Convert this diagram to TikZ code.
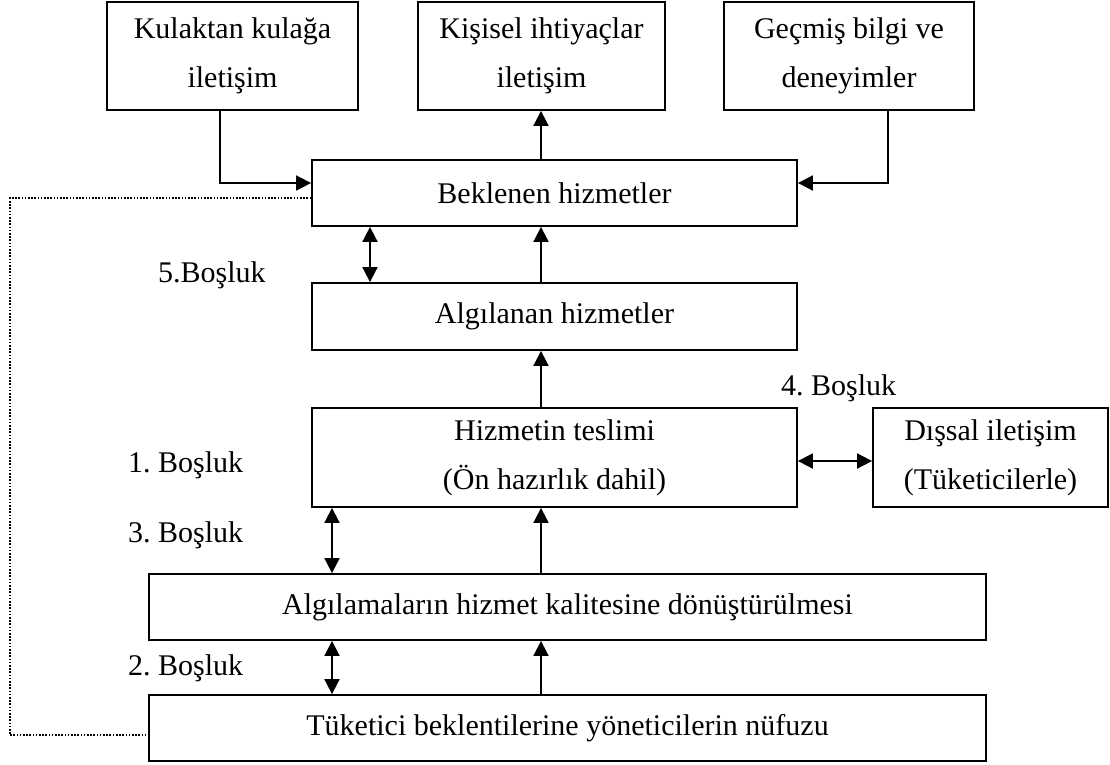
\documentclass[tikz,border=0pt]{standalone}
\usepackage{fontspec}
\setmainfont{Liberation Serif}
\usetikzlibrary{arrows.meta,backgrounds}
\frenchspacing

\begin{document}
\begin{tikzpicture}[x=1pt, y=-1pt,
    box/.style={draw, line width=1.8pt, fill=white, inner sep=0pt, align=center,
        font=\fontsize{30}{49}\selectfont},
    gap/.style={anchor=west, inner sep=0pt, font=\fontsize{30}{36}\selectfont},
    conn/.style={line width=1.8pt},
    arr/.style={conn, -{Triangle[length=15pt,width=15pt]}},
    darr/.style={conn, {Triangle[length=15pt,width=15pt]}-{Triangle[length=15pt,width=15pt]}},
    dotline/.style={line width=1.6pt, dash pattern=on 1.6pt off 1.6pt}]

    % Page size
    \useasboundingbox[fill=white] (0,0) rectangle (1110,764);

    % Top boxes
    \node[box, minimum width=251pt, minimum height=108pt] (kulak) at (232.5,56) {Kulaktan kulağa\\ iletişim};
    \node[box, minimum width=247pt, minimum height=108pt] (kisisel) at (541.5,56) {Kişisel ihtiyaçlar\\ iletişim};
    \node[box, minimum width=250pt, minimum height=108pt] (gecmis) at (849,56) {Geçmiş bilgi ve\\ deneyimler};

    % Middle column
    \node[box, minimum width=485pt, minimum height=66pt] (beklenen) at (554.5,193) {Beklenen hizmetler};
    \node[box, minimum width=485pt, minimum height=67pt] (algilanan) at (554.5,316.5) {Algılanan hizmetler};
    \node[box, minimum width=485pt, minimum height=99pt] (teslim) at (554.5,457.5) {Hizmetin teslimi\\ (Ön hazırlık dahil)};
    \node[box, minimum width=235pt, minimum height=99pt] (dissal) at (990.5,457.5) {Dışsal iletişim\\ (Tüketicilerle)};

    % Bottom boxes
    \node[box, minimum width=837pt, minimum height=66pt] (donusum) at (567.5,607) {Algılamaların hizmet kalitesine dönüştürülmesi};
    \node[box, minimum width=837pt, minimum height=66pt] (tuketici) at (567.5,728) {Tüketici beklentilerine yöneticilerin nüfuzu};

    % Gap labels
    \node[gap] (lab5) at (158,275) {5.Boşluk};
    \node[gap] (lab4) at (781,388) {4. Boşluk};
    \node[gap] (lab1) at (128,465) {1. Boşluk};
    \node[gap] (lab3) at (128,535) {3. Boşluk};
    \node[gap] (lab2) at (128,668) {2. Boşluk};

    % Helper coordinates
    \coordinate (ax) at (541,0);
    \coordinate (g5) at (370,0);
    \coordinate (g13) at (332,0);
    \coordinate (fb) at (10,735);
    \coordinate (fr) at (1072,735);

    % Arrows between top boxes and expected service
    \draw[arr] ([xshift=-12.5pt]kulak.south) |- ([yshift=10pt]beklenen.west);
    \draw[arr] ([xshift=39pt]gecmis.south) |- ([yshift=10pt]beklenen.east);
    \draw[arr] (beklenen.north -| ax) -- (kisisel.south -| ax);

    % Upward arrows
    \draw[arr] (algilanan.north -| ax) -- (beklenen.south -| ax);
    \draw[arr] (teslim.north -| ax) -- (algilanan.south -| ax);
    \draw[arr] (donusum.north -| ax) -- (teslim.south -| ax);
    \draw[arr] (tuketici.north -| ax) -- (donusum.south -| ax);

    % Gaps
    \draw[darr] (beklenen.south -| g5) -- (algilanan.north -| g5);
    \draw[darr] (teslim.south -| g13) -- (donusum.north -| g13);
    \draw[darr] (donusum.south -| g13) -- (tuketici.north -| g13);
    \draw[darr] ([yshift=-3.5pt]teslim.east) -- ([yshift=-3.5pt]dissal.west);

    % Feedback lines
    \draw[dotline] ([yshift=-5pt]beklenen.west) -| (fb) -- ([yshift=-7pt]tuketici.west);
    \begin{pgfonlayer}{background}
        \draw[conn] ([yshift=4.5pt]algilanan.east) -| (fr) -- ([yshift=-7pt]tuketici.east);
    \end{pgfonlayer}

\end{tikzpicture}
\end{document}
